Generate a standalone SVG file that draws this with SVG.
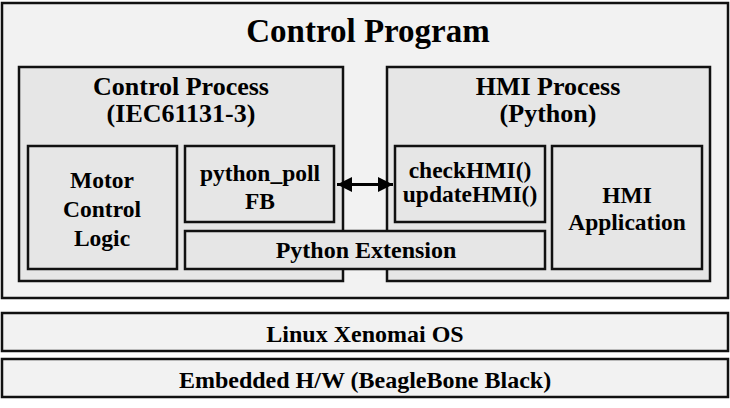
<svg xmlns="http://www.w3.org/2000/svg" width="730" height="408" viewBox="0 0 730 408">
<defs>
<style>
.outer{fill:#f2f2f2;stroke:#111;stroke-width:2.5}
.box{fill:#e6e6e6;stroke:#111;stroke-width:2.5}
text{font-family:"Liberation Serif","Times New Roman",serif;font-weight:bold;fill:#000;text-anchor:middle}
.t32{font-size:33px}
.t26{font-size:26px}
.t24{font-size:24px}
.t23{font-size:23.5px}
.conn{stroke:#000;stroke-width:3;fill:none}
</style>
<marker id="ah" viewBox="0 0 10 10" refX="10" refY="5" markerWidth="5" markerHeight="5" markerUnits="strokeWidth" orient="auto-start-reverse">
<path d="M0,0 L10,5 L0,10 z" fill="#000"/>
</marker>
</defs>
<rect width="730" height="408" fill="#ffffff"/>
<g id="control-program">
<rect class="outer" x="2" y="3" width="726" height="295"/>
<text class="t32" x="368" y="42">Control Program</text>
</g>
<g id="control-process">
<rect class="box" x="19" y="67" width="324" height="214"/>
<text class="t26" x="181" y="95">Control Process</text>
<text class="t26" x="181" y="122">(IEC61131-3)</text>
</g>
<g id="hmi-process">
<rect class="box" x="387" y="67" width="323" height="214"/>
<text class="t26" x="548" y="95">HMI Process</text>
<text class="t26" x="548" y="122">(Python)</text>
</g>
<g id="motor-control">
<rect class="box" x="28" y="146" width="149" height="123"/>
<text class="t23" x="102" y="188">Motor</text>
<text class="t23" x="102" y="217">Control</text>
<text class="t23" x="102" y="246">Logic</text>
</g>
<g id="python-poll">
<rect class="box" x="185" y="146" width="149" height="76"/>
<text class="t23" x="260" y="181">python_poll</text>
<text class="t23" x="260" y="209">FB</text>
</g>
<g id="python-extension">
<rect class="box" x="185" y="231" width="360" height="38"/>
<text class="t24" x="366" y="258">Python Extension</text>
</g>
<g id="check-hmi">
<rect class="box" x="395" y="146" width="150" height="76"/>
<text class="t23" x="470" y="178">checkHMI()</text>
<text class="t23" x="470" y="202">updateHMI()</text>
</g>
<g id="hmi-application">
<rect class="box" x="552" y="146" width="150" height="123"/>
<text class="t23" x="627" y="203">HMI</text>
<text class="t23" x="627" y="230">Application</text>
</g>
<g id="linux">
<rect class="outer" x="2" y="313" width="726" height="38"/>
<text class="t24" x="365" y="342">Linux Xenomai OS</text>
</g>
<g id="embedded">
<rect class="outer" x="2" y="359" width="726" height="38"/>
<text class="t24" x="365" y="388">Embedded H/W (BeagleBone Black)</text>
</g>
<g id="connectors">
<line class="conn" x1="337" y1="184.5" x2="393" y2="184.5" marker-start="url(#ah)" marker-end="url(#ah)"/>
</g>
</svg>
